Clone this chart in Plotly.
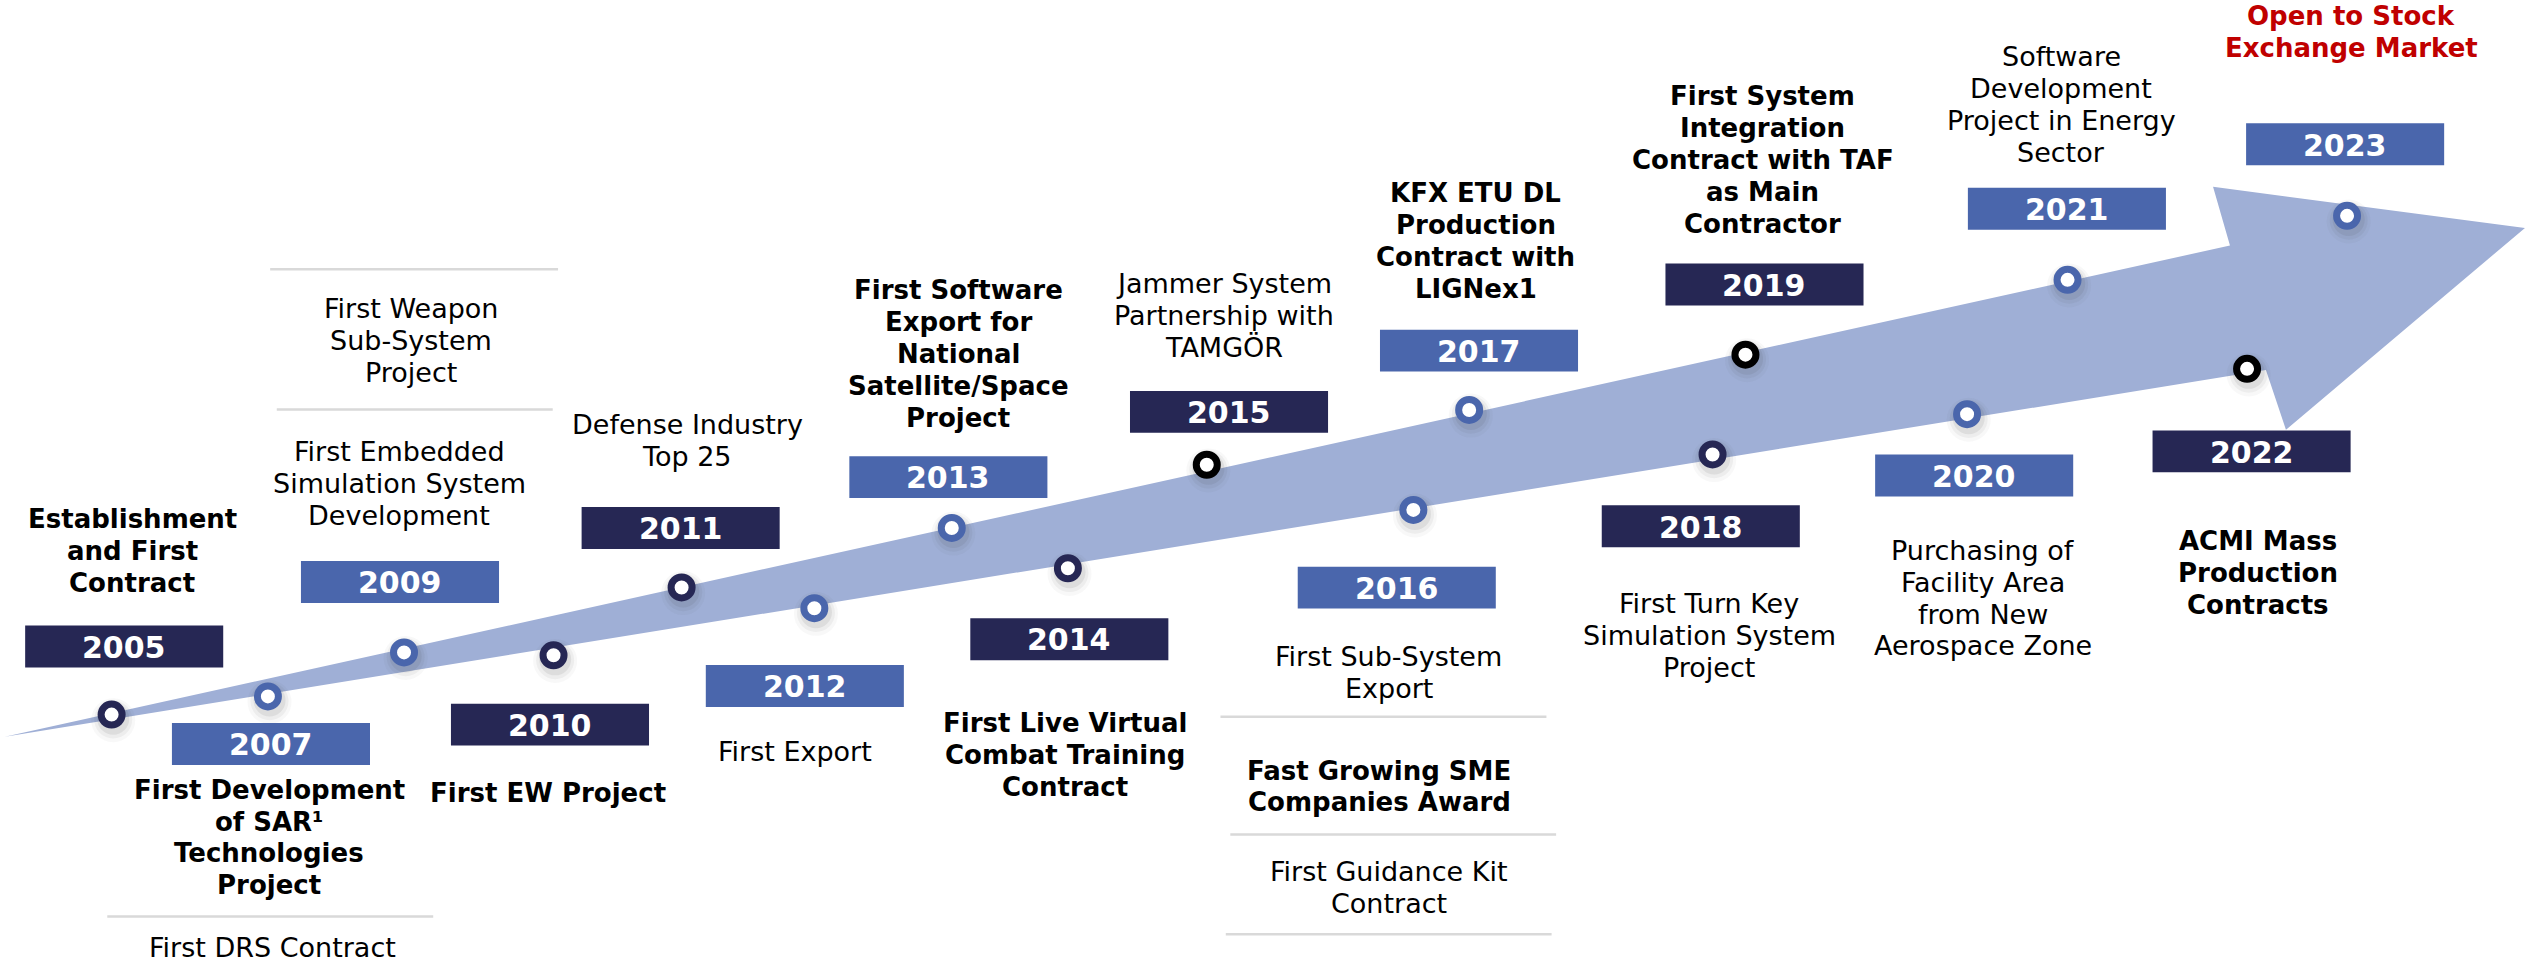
import plotly.graph_objects as go

# ---------------- DATA ----------------
years = [2005, 2007, 2009, 2010, 2011, 2012, 2013, 2014, 2015,
         2016, 2017, 2018, 2019, 2020, 2021, 2022, 2023]

milestones = [
    ["Establishment\nand First\nContract"],
    ["First Development\nof SAR¹\nTechnologies\nProject", "First DRS Contract"],
    ["First Embedded\nSimulation System\nDevelopment", "First Weapon\nSub-System\nProject"],
    ["First EW Project"],
    ["Defense Industry\nTop 25"],
    ["First Export"],
    ["First Software\nExport for\nNational\nSatellite/Space\nProject"],
    ["First Live Virtual\nCombat Training\nContract"],
    ["Jammer System\nPartnership with\nTAMGÖR"],
    ["First Sub-System\nExport", "Fast Growing SME\nCompanies Award", "First Guidance Kit\nContract"],
    ["KFX ETU DL\nProduction\nContract with\nLIGNex1"],
    ["First Turn Key\nSimulation System\nProject"],
    ["First System\nIntegration\nContract with TAF\nas Main\nContractor"],
    ["Purchasing of\nFacility Area\nfrom New\nAerospace Zone"],
    ["Software\nDevelopment\nProject in Energy\nSector"],
    ["ACMI Mass\nProduction\nContracts"],
    ["Open to Stock\nExchange Market"],
]

milestone_bold = [[True], [True, False], [False, False], [True], [False], [False],
                  [True], [True], [False], [False, True, False], [True], [False],
                  [True], [False], [False], [True], [True]]

highlight_year = 2023

# ---------------- LAYOUT / STYLE (canvas units = 1568 x 598) ----------------
W_UNITS, H_UNITS = 1568, 598
NAVY, BLUE, BLACK = "#262754", "#4A66AC", "#000000"
ARROW = "#9FAFD6"
SEP = "#D9D9D9"
RED = "#C00000"
FONT = "DejaVu Sans"
BOLD_SIZE = 26
REG_SIZE = 27
YEAR_SIZE = 30
LH = 19.8

box_tone = ["navy", "blue", "blue", "navy", "navy", "blue", "blue", "navy", "navy",
            "blue", "blue", "navy", "navy", "blue", "blue", "navy", "blue"]
ring_tone = ["navy", "blue", "blue", "navy", "navy", "blue", "blue", "navy", "black",
             "blue", "blue", "navy", "black", "blue", "blue", "black", "blue"]
tone = {"navy": NAVY, "blue": BLUE, "black": BLACK}

box_center = [(77, 401), (168, 461.5), (248, 361), (341, 449.5), (422, 327.5),
              (499, 425.5), (588, 296), (663, 396.5), (762, 255.5), (866, 364.5),
              (917, 217.5), (1054.5, 326.5), (1094, 176.5), (1224, 295),
              (1281.5, 129.5), (1396, 280), (1454, 89.5)]
BOX_W, BOX_H = 122.8, 26

ring_xy = [(69.2, 443.3), (166.1, 432), (250.5, 404.7), (343.2, 406.5), (422.6, 364.4),
           (504.9, 377.3), (590.1, 327.5), (662.1, 352.5), (748.2, 288.3), (876.3, 316.3),
           (910.9, 254.3), (1061.8, 281.9), (1082.2, 220), (1219.6, 256.9),
           (1281.9, 173.6), (1393.2, 228.8), (1455.2, 133.9)]

item_pos = [
    [(82, 321.8)],
    [(167, 489.8), (169, 587.9)],
    [(247.6, 280), (255, 191.6)],
    [(340, 491.8)],
    [(426, 263.5)],
    [(493, 466)],
    [(594, 180)],
    [(660, 448.7)],
    [(759, 176)],
    [(861, 407), (855, 478), (861, 540.6)],
    [(915, 120)],
    [(1059.6, 374.5)],
    [(1093, 59.5)],
    [(1229.5, 341.3)],
    [(1278, 35.2)],
    [(1400, 335.7)],
    [(1457.7, 9.7)],
]

separators = [(66.5, 268.6, 568.6), (167.5, 346, 167), (171.6, 342.7, 254),
              (756.7, 958.8, 444.7), (762.8, 964.8, 517.7), (760, 962, 579.5)]

arrow_outline = [(3, 457), (1382.6, 152.3), (1372.1, 115.9), (1565.5, 141.4),
                 (1417.3, 266.6), (1404.9, 229.5)]

# ---------------- BUILD ----------------
fig = go.Figure()
shapes = []
annotations = []

path = "M " + " L ".join(f"{x},{y}" for x, y in arrow_outline) + " Z"
shapes.append(dict(type="path", path=path, xref="x", yref="y",
                   fillcolor=ARROW, line=dict(width=0), layer="below"))

for (x0, x1, y) in separators:
    shapes.append(dict(type="line", x0=x0, x1=x1, y0=y, y1=y, xref="x", yref="y",
                       line=dict(color=SEP, width=2.5), layer="below"))

for yr, (cx, cy), t in zip(years, box_center, box_tone):
    shapes.append(dict(type="rect", x0=cx - BOX_W / 2, x1=cx + BOX_W / 2,
                       y0=cy - BOX_H / 2, y1=cy + BOX_H / 2, xref="x", yref="y",
                       fillcolor=tone[t], line=dict(width=0), layer="above"))
    annotations.append(dict(x=cx, y=cy + 0.5, xref="x", yref="y", text=f"<b>{yr}</b>",
                            showarrow=False, xanchor="center", yanchor="middle",
                            font=dict(family=FONT, size=YEAR_SIZE, color="white")))

for yr, items, bolds, poss in zip(years, milestones, milestone_bold, item_pos):
    color = RED if yr == highlight_year else "#000000"
    for text, b, (x, y0) in zip(items, bolds, poss):
        for i, line in enumerate(text.split("\n")):
            t = f"<b>{line}</b>" if b else line
            annotations.append(dict(x=x, y=y0 + i * LH, xref="x", yref="y", text=t,
                                    showarrow=False, xanchor="center", yanchor="middle",
                                    font=dict(family=FONT, size=BOLD_SIZE if b else REG_SIZE,
                                              color=color)))

# soft shadows under the rings
rx = [p[0] for p in ring_xy]
ry = [p[1] for p in ring_xy]
for size, op, dy in [(44, 0.04, 3.5), (38, 0.06, 3.0), (32, 0.09, 2.5)]:
    fig.add_trace(go.Scatter(x=[v + 1 for v in rx], y=[v + dy for v in ry], mode="markers",
                             marker=dict(size=size, color="#404040", opacity=op, line=dict(width=0)),
                             hoverinfo="skip", showlegend=False))

fig.add_trace(go.Scatter(
    x=rx, y=ry, mode="markers", text=[str(y) for y in years], hoverinfo="text",
    marker=dict(size=21, color="white", line=dict(width=7, color=[tone[t] for t in ring_tone])),
    showlegend=False))

fig.update_layout(
    width=2529, height=964, margin=dict(l=0, r=0, t=0, b=0),
    paper_bgcolor="white", plot_bgcolor="white",
    xaxis=dict(range=[0, W_UNITS], visible=False, fixedrange=True),
    yaxis=dict(range=[H_UNITS, 0], visible=False, fixedrange=True),
    shapes=shapes, annotations=annotations, showlegend=False,
)

fig.write_html("out.html", include_plotlyjs=True, full_html=True,
               config={"displayModeBar": False},
               post_script="document.body.style.margin='0';document.body.style.overflow='hidden';")
